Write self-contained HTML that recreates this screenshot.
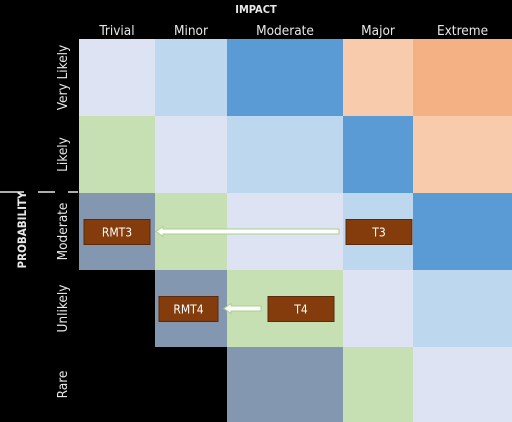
<!DOCTYPE html>
<html><head><meta charset="utf-8"><style>
html,body{margin:0;padding:0;background:#000;width:512px;height:422px;overflow:hidden}
svg text{font-family:"DejaVu Sans Condensed","Liberation Sans",sans-serif;fill:#e8e8e8}
</style></head><body>
<svg id="chart" width="512" height="422" viewBox="0 0 512 422" xmlns="http://www.w3.org/2000/svg">
<rect width="512" height="422" fill="#000"/>
<g id="cells"></g>
<g id="labels"></g>
<g id="overlay"></g>
</svg>
<script>
const impacts = ["Trivial","Minor","Moderate","Major","Extreme"];
const probabilities = ["Very Likely","Likely","Moderate","Unlikely","Rare"];
const levels = [
  [2,3,4,5,6],
  [1,2,3,4,5],
  [0,1,2,3,4],
  [-1,0,1,2,3],
  [-1,-1,0,1,2]
];
const risks = ["T3","RMT3","T4","RMT4"];
const riskImpact = [3,0,2,1];
const riskProb = [2,2,3,3];
const arrowsFrom = [0,2];
const arrowsTo = [1,3];

const colEdges=[79,155,227,343,413,512];
const rowEdges=[39,116,193,270,347,422];
const palette={"-1":"#000000","0":"#8497b0","1":"#c6e0b4","2":"#dde3f3","3":"#bdd7ee","4":"#5b9bd5","5":"#f8cbad","6":"#f4b183"};
const NS="http://www.w3.org/2000/svg";
function mk(t,a,p){const e=document.createElementNS(NS,t);for(const k in a)e.setAttribute(k,a[k]);p.appendChild(e);return e;}
const cx=i=>colEdges[i], cw=i=>colEdges[i+1]-colEdges[i];
const ry=j=>rowEdges[j], rh=j=>rowEdges[j+1]-rowEdges[j];
const cells=document.getElementById('cells'),labels=document.getElementById('labels'),ov=document.getElementById('overlay');

levels.forEach((row,j)=>row.forEach((v,i)=>{
  const r=mk('rect',{x:cx(i),y:ry(j),width:cw(i),height:rh(j),fill:palette[v]},cells);
  
  
}));

let t=mk('text',{x:256,y:13,'text-anchor':'middle','font-size':11,'font-weight':'bold'},labels);t.textContent='IMPACT';

impacts.forEach((n,i)=>{const e=mk('text',{x:cx(i)+cw(i)/2,y:35,'text-anchor':'middle','font-size':13.5},labels);e.textContent=n;
  });
probabilities.forEach((n,j)=>{const y=ry(j)+rh(j)/2;const e=mk('text',{x:0,y:0,'text-anchor':'middle','font-size':13.5,transform:`translate(67,${y}) rotate(-90)`},labels);e.textContent=n;
  });
t=mk('text',{x:0,y:0,'text-anchor':'middle','font-size':11.5,'font-weight':'bold',transform:'translate(26,230) rotate(-90)'},labels);t.textContent='PROBABILITY';

const dl=mk('line',{x1:0,y1:192,x2:78,y2:192,stroke:'#e8e8e8','stroke-width':1.5,'stroke-dasharray':'24,14,17,13,12'},labels);


const boxW=[66,66,66,59];
function boxPos(k){const i=riskImpact[k],j=riskProb[k];const w=boxW[k];
  let x; if(k==0)x=cx(i)+3; else if(k==1)x=cx(i)+5; else if(k==2)x=cx(i)+41; else x=cx(i)+4;
  return {x,y:ry(j)+rh(j)/2-12,w,h:25};}
arrowsFrom.forEach((f,a)=>{const b1=boxPos(f),b2=boxPos(arrowsTo[a]);const y=b1.y+12;
  const x1=b1.x-7,x2=b2.x+b2.w+6;
  const g=mk('g',{},ov);
  mk('path',{d:`M${x1} ${y-2.5}L${x2+7} ${y-2.5}L${x2+7} ${y-5}L${x2} ${y}L${x2+7} ${y+5}L${x2+7} ${y+2.5}L${x1} ${y+2.5}Z`,fill:'#fff',stroke:'#a9d08e','stroke-width':1},g);
});
risks.forEach((n,k)=>{const b=boxPos(k);const g=mk('g',{},ov);
  
  mk('rect',{x:b.x,y:b.y,width:b.w,height:b.h,fill:'#843c0c',stroke:'#5a2a0a','stroke-width':1},g);
  const e=mk('text',{x:b.x+b.w/2,y:b.y+17,'text-anchor':'middle','font-size':12},g);e.textContent=n;e.setAttribute('style','fill:#fff');
});
</script>
</body></html>
